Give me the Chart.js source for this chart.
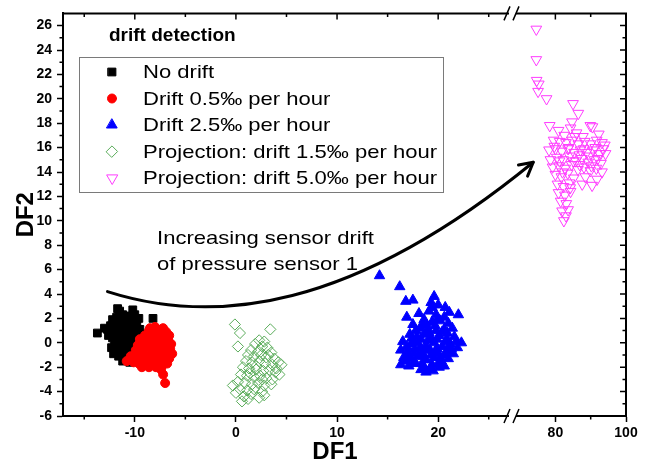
<!DOCTYPE html>
<html>
<head>
<meta charset="utf-8">
<script src="https://cdn.jsdelivr.net/npm/chart.js"></script>
<style>
  html, body { margin: 0; padding: 0; background: #fff; }
</style>
</head>
<body>
<canvas id="chart" width="651" height="465"></canvas>
<script>
// ---- data (DF1, DF2) ----
const noDrift = [
  [-13.7,0.8],[-13.0,1.2],[-12.6,0.6],[-11.7,2.8],[-11.5,2.6],[-10.2,2.7],[-8.2,2.0],[-12.2,1.9],
  [-11.8,2.1],[-11.2,2.3],[-10.6,2.2],[-10.0,2.3],[-9.6,2.0],[-12.4,1.4],[-11.9,1.6],[-11.3,1.8],
  [-10.8,1.7],[-10.3,1.9],[-9.8,1.5],[-12.5,0.9],[-12.0,1.0],[-11.5,1.2],[-11.0,1.1],[-10.5,1.3],
  [-10.0,1.0],[-9.5,1.1],[-12.2,0.4],[-11.7,0.5],[-11.2,0.6],[-10.7,0.3],[-10.2,0.6],[-9.7,0.4],
  [-12.0,-0.2],[-11.5,-0.1],[-11.0,0.0],[-10.5,-0.3],[-10.0,-0.1],[-11.8,-0.7],[-11.3,-0.6],[-10.8,-0.8],
  [-10.3,-0.5],[-9.8,-0.7],[-11.6,-1.1],[-11.1,-1.2],[-10.6,-1.3],[-10.1,-1.0],[-11.2,-1.5],[-10.5,-1.6],
  [-11.9,0.2],[-10.9,0.8],[-12.3,-0.4],[-9.9,0.1],[-11.4,1.5],[-10.4,2.0],[-11.6,-0.4],[-10.6,0.9],
  [-12.7,1.1],[-9.4,0.7],[-11.0,-0.4],[-10.2,-0.9],[-11.4,0.3],[-10.4,1.6],[-9.9,-1.3],[-12.1,-0.9]
];
const drift05 = [
  [-8.5,1.2],[-8.0,1.3],[-7.2,1.2],[-6.9,0.9],[-7.6,0.9],[-8.3,0.8],[-9.0,0.6],[-9.5,0.3],
  [-8.7,0.4],[-8.0,0.5],[-7.3,0.5],[-6.7,0.3],[-6.4,-0.1],[-7.0,-0.1],[-7.7,0.0],[-8.4,0.1],
  [-9.1,-0.1],[-9.7,-0.2],[-9.3,-0.6],[-8.6,-0.4],[-7.9,-0.5],[-7.2,-0.4],[-6.5,-0.5],[-6.3,-0.9],
  [-6.9,-0.8],[-7.6,-0.9],[-8.3,-0.8],[-9.0,-1.0],[-9.7,-1.0],[-9.9,-1.3],[-9.2,-1.4],[-8.5,-1.2],
  [-7.8,-1.3],[-7.1,-1.2],[-6.6,-1.3],[-6.8,-1.7],[-7.5,-1.6],[-8.2,-1.7],[-8.9,-1.8],[-9.6,-1.7],
  [-9.3,-2.0],[-8.6,-2.0],[-7.9,-2.0],[-7.3,-1.9],[-10.8,-1.5],[-10.4,-1.1],[-10.1,-1.6],[-7.2,-2.6],
  [-7.0,-3.3],[-7.4,-2.2],[-8.0,-1.0],[-8.8,-0.2],[-7.4,0.2],[-8.2,-0.3],[-9.5,-0.4],[-6.7,-0.3],
  [-8.6,1.0],[-7.8,1.1],[-9.1,0.2],[-6.6,0.6],[-7.1,-0.6],[-8.4,-1.5],[-9.9,-0.6],[-7.7,-1.1]
];
const drift25 = [
  [14.2,5.5],[16.2,4.6],[16.8,3.4],[17.5,3.5],[22.0,2.3],[16.9,2.1],[19.6,3.8],[19.3,3.3],
  [20.0,3.1],[20.7,2.9],[21.1,2.5],[18.1,2.4],[19.1,2.6],[19.8,2.3],[18.6,1.9],[19.4,1.7],
  [20.2,1.8],[21.0,1.6],[17.5,1.5],[18.2,1.2],[19.0,1.1],[19.8,1.0],[20.6,1.1],[21.4,1.2],
  [17.2,0.7],[17.9,0.5],[18.6,0.7],[19.3,0.4],[20.1,0.6],[20.9,0.3],[21.6,0.5],[22.3,0.0],
  [16.5,0.1],[17.3,-0.1],[18.0,0.0],[18.8,-0.2],[19.6,0.0],[20.4,-0.3],[21.2,-0.1],[21.9,-0.4],
  [16.3,-0.6],[17.0,-0.7],[17.7,-0.5],[18.4,-0.8],[19.2,-0.6],[20.0,-0.9],[20.8,-0.7],[21.5,-0.9],
  [16.6,-1.2],[17.3,-1.3],[18.0,-1.1],[18.8,-1.4],[19.6,-1.2],[20.3,-1.5],[21.0,-1.3],[16.3,-1.8],
  [17.1,-1.9],[17.8,-1.7],[18.6,-2.0],[19.4,-1.8],[20.1,-2.0],[18.8,-2.4],[19.5,-2.3],[18.3,-2.2],
  [20.6,-1.9],[19.0,0.2],[20.4,0.9],[18.2,-0.4],[19.9,-0.5],[17.6,0.1],[21.3,-0.5],[18.5,1.5],
  [19.7,1.4],[17.0,-1.0],[20.7,-1.0],[17.4,0.4],[18.3,0.3],[19.1,0.8],[19.9,0.3],[20.7,0.1],
  [17.6,-0.9],[18.5,-1.1],[19.3,-1.0],[20.2,-1.2],[21.1,-0.6],[16.8,-1.5],[17.6,-1.6],[18.4,-1.7],
  [19.2,-2.1],[20.0,-1.7],[18.9,1.4],[19.9,1.9],[20.6,2.1],[19.4,2.9],[17.8,1.0],[20.9,0.8],
  [21.8,0.1],[16.9,-0.3],[18.7,-0.6],[19.7,-0.7]
];
const proj15 = [
  [-0.1,1.5],[0.4,0.8],[0.2,-0.3],[3.4,1.1],[2.3,0.2],[2.8,0.1],[1.9,-0.1],[2.6,-0.3],
  [3.1,-0.4],[1.5,-0.6],[2.2,-0.7],[3.5,-0.8],[1.2,-1.0],[1.8,-1.1],[2.5,-1.0],[3.0,-1.2],
  [3.8,-1.3],[4.2,-1.6],[4.5,-1.8],[1.0,-1.5],[1.6,-1.6],[2.3,-1.5],[2.9,-1.7],[3.6,-1.8],
  [4.0,-2.1],[0.7,-2.0],[1.3,-2.1],[2.0,-2.2],[2.7,-2.3],[3.3,-2.2],[4.3,-2.6],[0.5,-2.6],
  [1.1,-2.7],[1.8,-2.8],[2.4,-2.7],[3.0,-2.9],[3.6,-3.0],[0.2,-3.2],[0.9,-3.3],[1.6,-3.4],
  [2.2,-3.3],[2.8,-3.5],[3.5,-3.4],[-0.3,-3.5],[0.4,-3.8],[1.1,-3.9],[1.8,-3.8],[2.6,-4.0],
  [0.0,-4.1],[0.8,-4.4],[1.5,-4.2],[2.3,-4.5],[0.6,-4.8],[1.2,-4.6],[2.8,-4.3],[3.2,-1.0],
  [2.0,-1.9],[1.4,-2.5],[2.6,-3.0],[3.9,-2.4]
];
const proj50 = [
  [74.6,25.7],[74.6,23.2],[74.7,21.5],[75.3,21.2],[75.1,20.6],[77.5,20.0],[85.0,19.6],[86.5,18.8],
  [78.4,17.8],[80.9,17.4],[84.7,18.1],[84.3,17.6],[89.9,17.8],[90.5,17.7],[92.3,17.1],[93.2,16.4],
  [94.0,16.2],[82.5,17.0],[86.0,17.2],[87.8,16.9],[79.5,16.6],[81.2,16.5],[83.0,16.4],[84.8,16.6],
  [86.5,16.3],[88.3,16.5],[90.0,16.3],[91.7,16.6],[93.6,15.9],[78.2,15.8],[80.0,15.9],[81.8,15.7],
  [83.6,15.9],[85.3,15.6],[87.1,15.8],[88.9,15.6],[90.7,15.8],[92.5,15.5],[94.2,15.5],[78.6,15.0],
  [80.4,15.2],[82.2,15.0],[84.0,15.3],[85.8,14.9],[87.5,15.1],[89.3,14.8],[91.1,15.0],[92.9,14.7],
  [79.2,14.4],[81.0,14.5],[82.8,14.3],[84.6,14.6],[86.4,14.2],[88.1,14.4],[89.9,14.1],[91.6,14.3],
  [93.2,14.0],[80.0,13.8],[81.7,13.6],[83.5,13.9],[85.2,13.5],[88.5,13.6],[90.4,12.9],[91.8,13.4],
  [87.6,13.0],[80.6,13.0],[82.3,12.8],[84.0,13.1],[80.9,12.3],[82.7,12.1],[84.3,12.4],[81.5,11.6],
  [83.1,11.4],[81.9,10.8],[83.6,10.9],[82.4,10.0],[83.0,10.4],[85.5,16.9],[83.8,16.0],[86.8,15.4],
  [88.0,15.9],[82.0,14.0],[85.1,14.9],[89.6,15.3],[91.3,16.0],[79.7,16.1],[86.9,14.6],[84.2,12.7],
  [81.2,14.9],[90.2,14.5],[92.0,15.1]
];

const seriesLabels = [
  'No drift',
  'Drift 0.5\u2030 per hour',
  'Drift 2.5\u2030 per hour',
  'Projection: drift 1.5\u2030 per hour',
  'Projection: drift 5.0\u2030 per hour'
];

// ---- ticks ----
const xLeftTicks = [-10, 0, 10, 20];
const xLeftMinor = [-15, -5, 5, 15, 25];
const xRightTicks = [80, 100];
const xRightMinor = [90];
const yTicks = [-6, -4, -2, 0, 2, 4, 6, 8, 10, 12, 14, 16, 18, 20, 22, 24, 26];
const yMinor = [-5, -3, -1, 1, 3, 5, 7, 9, 11, 13, 15, 17, 19, 21, 23, 25];

// annotation: arrow (bezier in DF1/DF2 units of the left segment)
const arrowCurve = [[-12.7, 4.2], [-2.1, 1.4], [11.4, 2.6], [29.4, 14.8]];
const noteLines = ['Increasing sensor drift', 'of pressure sensor 1'];

const FONT = 'Arial, "Liberation Sans", sans-serif';
const toPts = arr => arr.map(p => ({ x: p[0], y: p[1] }));

function xAxis(min, max, weight, ticks) {
  return {
    type: 'linear',
    position: 'bottom',
    stack: 'df1',
    stackWeight: weight,
    min: min,
    max: max,
    afterBuildTicks: s => { s.ticks = ticks.map(v => ({ value: v })); },
    afterFit: s => { s.height = 49; },
    grid: { drawOnChartArea: false, tickLength: 6, tickWidth: 1.5, tickColor: '#000' },
    border: { color: '#000', width: 2 },
    ticks: { color: '#000', font: { family: FONT, size: 14, weight: 'bold' }, padding: 3, maxRotation: 0, autoSkip: false }
  };
}

const extras = {
  id: 'extras',
  afterDraw(chart) {
    const { ctx, chartArea: a, scales } = chart;
    const x = scales.x, x2 = scales.x2, y = scales.y;
    ctx.save();
    ctx.strokeStyle = '#000';
    ctx.lineWidth = 2;
    ctx.beginPath();
    ctx.moveTo(a.left, a.top);
    ctx.lineTo(a.right, a.top);
    ctx.lineTo(a.right, a.bottom);
    ctx.stroke();

    ctx.lineWidth = 1.5;
    ctx.beginPath();
    const vTick = (px, y0, len) => { ctx.moveTo(px, y0); ctx.lineTo(px, y0 + len); };
    const hTick = (py, x0, len) => { ctx.moveTo(x0, py); ctx.lineTo(x0 + len, py); };
    xLeftMinor.forEach(v => vTick(x.getPixelForValue(v), a.bottom, 3.5));
    xRightMinor.forEach(v => vTick(x2.getPixelForValue(v), a.bottom, 3.5));
    yMinor.forEach(v => hTick(y.getPixelForValue(v), a.left, -3.5));
    xLeftTicks.forEach(v => vTick(x.getPixelForValue(v), a.top, 6));
    xLeftMinor.forEach(v => vTick(x.getPixelForValue(v), a.top, 3.5));
    vTick(x2.getPixelForValue(80), a.top, 6);
    xRightMinor.forEach(v => vTick(x2.getPixelForValue(v), a.top, 3.5));
    yTicks.forEach(v => hTick(y.getPixelForValue(v), a.right, -6));
    yMinor.forEach(v => hTick(y.getPixelForValue(v), a.right, -3.5));
    ctx.stroke();

    // axis break marks
    const bx = x.right;
    [a.top, a.bottom].forEach(yy => {
      ctx.fillStyle = '#fff';
      ctx.fillRect(bx - 4, yy - 2, 7, 4);
      ctx.beginPath();
      ctx.moveTo(bx - 9, yy + 7); ctx.lineTo(bx - 3, yy - 7);
      ctx.moveTo(bx, yy + 7); ctx.lineTo(bx + 6, yy - 7);
      ctx.stroke();
    });

    // arrow annotation
    const P = arrowCurve.map(p => [x.getPixelForValue(p[0]), y.getPixelForValue(p[1])]);
    ctx.lineWidth = 3;
    ctx.lineCap = 'round';
    ctx.beginPath();
    ctx.moveTo(P[0][0], P[0][1]);
    ctx.bezierCurveTo(P[1][0], P[1][1], P[2][0], P[2][1], P[3][0], P[3][1]);
    ctx.stroke();
    const ang = Math.atan2(P[3][1] - P[2][1], P[3][0] - P[2][0]);
    ctx.beginPath();
    [0.5, -0.5].forEach(d => {
      ctx.moveTo(P[3][0], P[3][1]);
      ctx.lineTo(P[3][0] - 15 * Math.cos(ang + d), P[3][1] - 15 * Math.sin(ang + d));
    });
    ctx.stroke();

    // note text
    ctx.fillStyle = '#000';
    ctx.textBaseline = 'middle';
    ctx.textAlign = 'left';
    ctx.font = '19px ' + FONT;
    const nx = x.getPixelForValue(-7.8), ny = y.getPixelForValue(8.55);
    noteLines.forEach((t, i) => {
      ctx.save();
      ctx.translate(nx, ny + i * 26);
      ctx.scale(1.16, 1);
      ctx.fillText(t, 0, 0);
      ctx.restore();
    });

    // DF1 title
    ctx.font = 'bold 24px ' + FONT;
    ctx.textAlign = 'center';
    ctx.fillText('DF1', 335, 452);

    // legend
    ctx.textAlign = 'left';
    ctx.font = 'bold 19px ' + FONT;
    ctx.fillText('drift detection', 109, 36);
    ctx.strokeStyle = '#7a7a7a';
    ctx.lineWidth = 1;
    ctx.strokeRect(79.5, 57.5, 364, 135);
    ctx.font = '19px ' + FONT;
    chart.data.datasets.forEach((ds, i) => {
      const ly = 72 + i * 26.5;
      ctx.save();
      ctx.fillStyle = ds.backgroundColor;
      ctx.strokeStyle = ds.borderColor;
      ctx.lineWidth = ds.borderWidth;
      Chart.helpers.drawPoint(ctx, { pointStyle: ds.pointStyle, radius: ds.pointRadius, rotation: ds.rotation || 0, borderWidth: ds.borderWidth }, 112, ly);
      ctx.restore();
      ctx.save();
      ctx.fillStyle = '#000';
      ctx.translate(143, ly);
      ctx.scale(1.16, 1);
      ctx.fillText(ds.label, 0, 1);
      ctx.restore();
    });
    ctx.restore();
  }
};

new Chart(document.getElementById('chart'), {
  type: 'scatter',
  data: {
    datasets: [
      { label: seriesLabels[0], data: toPts(noDrift), xAxisID: 'x', pointStyle: 'rect', pointRadius: 5.5,
        backgroundColor: '#000', borderColor: '#000', borderWidth: 1, order: 4 },
      { label: seriesLabels[1], data: toPts(drift05), xAxisID: 'x', pointStyle: 'circle', pointRadius: 4.5,
        backgroundColor: '#ff0000', borderColor: '#ff0000', borderWidth: 1, order: 1 },
      { label: seriesLabels[2], data: toPts(drift25), xAxisID: 'x', pointStyle: 'triangle', pointRadius: 6,
        backgroundColor: '#0000ff', borderColor: '#0000ff', borderWidth: 1, order: 2 },
      { label: seriesLabels[3], data: toPts(proj15), xAxisID: 'x', pointStyle: 'rectRot', pointRadius: 5.6,
        backgroundColor: 'rgba(0,0,0,0)', borderColor: '#5aac5a', borderWidth: 1, order: 3 },
      { label: seriesLabels[4], data: toPts(proj50), xAxisID: 'x2', pointStyle: 'triangle', rotation: 180, pointRadius: 6.2,
        backgroundColor: 'rgba(0,0,0,0)', borderColor: '#ff3cff', borderWidth: 1, order: 5 }
    ]
  },
  options: {
    responsive: false,
    animation: false,
    events: [],
    layout: { padding: { left: 0, top: 10, right: 25, bottom: 0 } },
    plugins: { legend: { display: false }, tooltip: { enabled: false }, title: { display: false } },
    elements: { point: { hoverRadius: 0 } },
    scales: {
      x: xAxis(-17.1, 27.4, 450, xLeftTicks),
      x2: xAxis(68, 100, 113, xRightTicks),
      y: {
        type: 'linear',
        position: 'left',
        min: -6,
        max: 27,
        afterBuildTicks: s => { s.ticks = yTicks.map(v => ({ value: v })); },
        afterFit: s => { s.width = 63; },
        grid: { drawOnChartArea: false, tickLength: 6, tickWidth: 1.5, tickColor: '#000' },
        border: { color: '#000', width: 2 },
        ticks: { color: '#000', font: { family: FONT, size: 14, weight: 'bold' }, padding: 5 },
        title: { display: true, text: 'DF2', color: '#000', font: { family: FONT, size: 24, weight: 'bold' }, padding: { top: 12, bottom: 0 } }
      }
    }
  },
  plugins: [extras]
});
</script>
</body>
</html>
